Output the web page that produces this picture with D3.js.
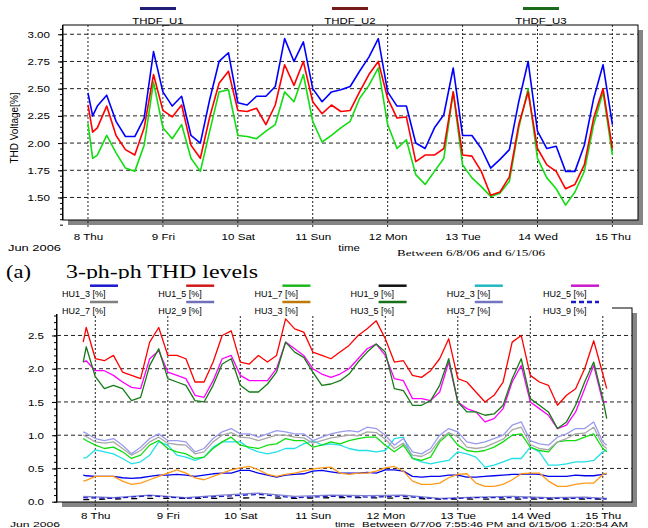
<!DOCTYPE html>
<html>
<head>
<meta charset="utf-8">
<script src="https://cdn.jsdelivr.net/npm/d3@7"></script>
<style>
body { margin: 0; background: #fff; }
svg { display: block; }
text { font-family: Arial, "Liberation Sans", sans-serif; fill: #000; }
</style>
</head>
<body>
<svg id="chart" width="648" height="528"></svg>
<script>
// hours after Jun 8 2006 00:00
const topHours = [0,1.5,3,6,9,12,15,18,21,24,27,30,33,36,39,42,45,48,51,54,57,60,63,66,69,72,75,78,81,84,87,90,93,96,99,102,105,108,111,114,117,120,123,126,129,132,135,138,141,144,147,150,153,156,159,162,165,168]
const thdfU1 = [2.46,2.25,2.34,2.44,2.20,2.06,2.06,2.23,2.84,2.47,2.34,2.43,2.07,2.00,2.40,2.75,2.83,2.37,2.35,2.43,2.43,2.52,2.96,2.75,2.93,2.50,2.38,2.47,2.49,2.52,2.66,2.79,2.96,2.47,2.34,2.34,2.00,1.95,2.14,2.26,2.69,2.07,2.07,1.95,1.77,1.85,1.94,2.38,2.75,2.11,1.95,1.97,1.74,1.74,1.98,2.41,2.72,2.17]
const thdfU2 = [2.35,2.10,2.14,2.34,2.07,1.94,1.89,2.14,2.63,2.30,2.24,2.35,1.98,1.86,2.24,2.55,2.66,2.30,2.29,2.32,2.17,2.35,2.72,2.53,2.75,2.38,2.27,2.35,2.29,2.30,2.47,2.63,2.75,2.41,2.23,2.24,1.83,1.89,1.89,1.95,2.47,1.89,1.88,1.74,1.52,1.55,1.69,2.17,2.47,1.95,1.80,1.74,1.58,1.62,1.80,2.23,2.50,1.95]
const thdfU3 = [2.18,1.86,1.89,2.07,1.91,1.77,1.74,1.98,2.56,2.14,2.04,2.17,1.86,1.74,2.11,2.47,2.49,2.07,2.06,2.04,2.11,2.17,2.47,2.38,2.63,2.20,2.01,2.07,2.14,2.20,2.41,2.53,2.69,2.17,1.95,2.03,1.71,1.62,1.74,1.86,2.47,1.80,1.68,1.60,1.51,1.54,1.65,2.14,2.50,1.86,1.68,1.58,1.43,1.55,1.74,2.17,2.47,1.89]
const topTicks = [1.5,1.75,2.0,2.25,2.5,2.75,3.0]

const botHours = [-4,-3,0,3,6,9,12,15,18,21,24,27,30,33,36,39,42,45,48,51,54,57,60,63,66,69,72,75,78,81,84,87,90,93,96,99,102,105,108,111,114,117,120,123,126,129,132,135,138,141,144,147,150,153,156,159,162,165,168,169.3]
const hu1_3 = [0.40,0.39,0.38,0.38,0.38,0.36,0.35,0.36,0.38,0.40,0.40,0.41,0.40,0.38,0.40,0.42,0.43,0.43,0.47,0.47,0.43,0.40,0.37,0.40,0.41,0.42,0.46,0.47,0.45,0.43,0.43,0.43,0.44,0.43,0.48,0.48,0.46,0.38,0.37,0.38,0.38,0.40,0.40,0.37,0.37,0.38,0.39,0.40,0.41,0.41,0.42,0.41,0.38,0.38,0.38,0.40,0.39,0.39,0.41,0.42]
const hu1_5 = [2.40,2.62,2.15,2.12,2.20,1.95,1.90,1.85,2.40,2.62,2.20,2.20,2.15,1.80,1.80,2.10,2.50,2.57,2.10,2.07,2.20,2.10,2.20,2.75,2.60,2.55,2.25,2.20,2.15,2.25,2.35,2.50,2.60,2.72,2.45,2.10,2.12,1.90,1.87,1.97,2.15,2.45,1.85,1.80,1.65,1.50,1.60,1.80,2.40,2.50,1.90,1.80,1.75,1.45,1.60,1.70,2.00,2.42,1.92,1.70]
const hu1_7 = [0.95,0.92,0.85,0.80,0.82,0.75,0.65,0.70,0.85,0.92,0.80,0.75,0.72,0.65,0.67,0.80,0.90,0.97,0.85,0.82,0.80,0.85,0.87,0.95,0.92,0.92,0.82,0.85,0.90,0.87,0.92,0.95,0.97,0.97,0.85,0.75,0.85,0.65,0.62,0.67,0.90,1.02,0.85,0.77,0.75,0.77,0.82,0.90,1.00,1.02,0.82,0.77,0.75,0.90,0.92,0.92,0.97,1.02,0.80,0.75]
const hu2_3 = [0.66,0.66,0.78,0.75,0.72,0.65,0.57,0.60,0.70,0.90,0.85,0.70,0.67,0.62,0.67,0.82,0.90,0.90,0.90,0.80,0.75,0.72,0.75,0.80,0.80,0.87,0.92,0.85,0.87,0.85,0.80,0.77,0.77,0.75,0.77,0.95,0.97,0.65,0.60,0.57,0.60,0.62,0.75,0.72,0.67,0.52,0.55,0.60,0.65,0.65,0.82,0.75,0.55,0.55,0.57,0.60,0.60,0.62,0.75,0.78]
const hu2_5 = [2.10,2.12,1.97,1.97,1.90,1.80,1.72,1.70,2.15,2.27,1.95,1.90,1.85,1.60,1.57,1.82,2.15,2.20,1.90,1.82,1.82,1.82,2.00,2.40,2.30,2.20,2.00,1.92,1.87,1.92,2.00,2.15,2.30,2.37,2.20,1.85,1.82,1.55,1.55,1.52,1.65,2.10,1.50,1.40,1.35,1.20,1.25,1.40,1.80,2.05,1.50,1.40,1.30,1.10,1.15,1.35,1.70,2.05,1.50,1.50]
const hu2_7 = [1.00,0.98,0.90,0.88,0.90,0.80,0.70,0.77,0.90,0.97,0.88,0.86,0.85,0.72,0.75,0.90,1.00,1.04,0.97,0.96,0.92,0.96,1.00,1.00,0.97,0.96,0.88,0.92,0.96,0.98,1.00,0.99,1.05,1.04,0.94,0.80,0.88,0.70,0.68,0.75,0.93,1.04,0.98,0.82,0.80,0.82,0.88,0.94,1.08,1.12,0.86,0.80,0.78,0.90,0.95,1.02,1.03,1.12,0.85,0.80]
const hu3_3 = [0.31,0.32,0.38,0.38,0.38,0.31,0.26,0.28,0.33,0.38,0.43,0.48,0.43,0.36,0.33,0.38,0.43,0.48,0.51,0.53,0.48,0.41,0.38,0.41,0.43,0.46,0.49,0.51,0.52,0.43,0.41,0.43,0.43,0.46,0.51,0.53,0.46,0.31,0.26,0.26,0.28,0.36,0.41,0.42,0.28,0.23,0.23,0.26,0.33,0.42,0.43,0.43,0.31,0.23,0.23,0.26,0.28,0.28,0.41,0.43]
const hu3_5 = [2.10,2.33,1.88,1.70,1.75,1.70,1.52,1.57,2.05,2.30,1.85,1.80,1.75,1.52,1.50,1.75,2.07,2.15,1.75,1.65,1.65,1.77,1.95,2.40,2.25,2.17,1.95,1.75,1.77,1.82,1.92,2.10,2.25,2.37,2.25,1.70,1.67,1.45,1.45,1.52,1.75,2.15,1.50,1.35,1.35,1.30,1.32,1.45,1.85,2.15,1.55,1.45,1.35,1.10,1.20,1.45,1.80,2.10,1.55,1.25]
const hu3_7 = [1.05,1.03,0.95,0.92,0.95,0.85,0.72,0.82,0.95,1.02,0.92,0.92,0.90,0.75,0.80,0.95,1.05,1.10,1.02,1.02,0.97,1.02,1.07,1.05,1.02,1.02,0.92,0.97,1.02,1.05,1.07,1.05,1.12,1.10,1.00,0.85,0.95,0.75,0.72,0.80,1.00,1.10,1.05,0.90,0.87,0.90,0.95,1.00,1.15,1.20,0.92,0.87,0.85,0.97,1.02,1.10,1.10,1.20,0.90,0.85]

const lowHours = [-4,6,18,30,42,54,66,78,90,102,114,126,138,150,162,169.3]
const hu1_9 = [0.03,0.04,0.05,0.05,0.05,0.06,0.05,0.06,0.06,0.05,0.04,0.04,0.04,0.04,0.04,0.04]
const hu2_9 = [0.08,0.06,0.10,0.06,0.10,0.13,0.08,0.10,0.09,0.10,0.05,0.07,0.08,0.06,0.07,0.05]
const hu3_9 = [0.06,0.05,0.09,0.05,0.08,0.11,0.06,0.08,0.07,0.08,0.04,0.06,0.06,0.05,0.05,0.04]
const botTicks = [0,0.5,1.0,1.5,2.0,2.5]

const t0 = new Date(2006, 5, 8)
const toDate = h => new Date(t0.getTime() + h * 3600e3)
const dayFmt = d3.timeFormat('%-d %a')

const svg = d3.select('#chart')

// widen text the way the scanned figure is stretched
function stretch(sel, k) {
    sel.each(function() {
        const w = this.getComputedTextLength()
        d3.select(this).attr('textLength', w * k).attr('lengthAdjust', 'spacingAndGlyphs')
    })
}

function panel(box, x, y, major, minorStep, fmt, labelGap) {
    const w = box.right - box.left, h = box.bottom - box.top
    svg.append('rect')
        .attr('x', box.left + 5).attr('y', box.top + 5)
        .attr('width', w).attr('height', h)
        .attr('fill', '#858585')
    svg.append('rect')
        .attr('x', box.left).attr('y', box.top)
        .attr('width', w).attr('height', h)
        .attr('fill', '#fff').attr('stroke', '#000').attr('stroke-width', 1)

    // horizontal grid
    svg.append('g').selectAll('line')
        .data(major.filter(v => y(v) < box.bottom - 2))
        .join('line')
        .attr('x1', box.left).attr('x2', box.right)
        .attr('y1', d => y(d)).attr('y2', d => y(d))
        .attr('stroke', '#222').attr('stroke-dasharray', '4,3')

    // day grid
    const days = x.ticks(d3.timeDay.every(1))
    svg.append('g').selectAll('line')
        .data(days)
        .join('line')
        .attr('x1', d => x(d)).attr('x2', d => x(d))
        .attr('y1', box.top).attr('y2', box.bottom + 8)
        .attr('stroke', '#222').attr('stroke-dasharray', '2,2')

    // minor ticks
    const minor = d3.range(y.domain()[0] - y.domain()[0] % minorStep, y.domain()[1], minorStep)
    svg.append('g')
        .attr('transform', `translate(${box.left},0)`)
        .call(d3.axisLeft(y).tickValues(minor).tickSize(3).tickFormat(''))
        .call(g => g.select('.domain').remove())

    const yAxis = svg.append('g')
        .attr('transform', `translate(${box.left},0)`)
        .call(d3.axisLeft(y).tickValues(major).tickSize(5).tickPadding(8).tickFormat(fmt))
    yAxis.selectAll('text').attr('font-size', 9.5).attr('font-family', 'Arial, "Liberation Sans", sans-serif')
    yAxis.select('.domain').attr('d', `M-0.5,${box.top}V${box.bottom}`)
    stretch(yAxis.selectAll('text'), 1.22)

    const xAxis = svg.append('g')
        .attr('transform', `translate(0,${box.bottom + labelGap})`)
        .call(d3.axisBottom(x).ticks(d3.timeDay.every(1)).tickSize(0).tickPadding(0).tickFormat(dayFmt))
    xAxis.select('.domain').remove()
    xAxis.selectAll('text').attr('font-size', 9.5).attr('font-family', 'Arial, "Liberation Sans", sans-serif')
    stretch(xAxis.selectAll('text'), 1.22)
}

function drawLine(x, y, hours, vals, color, width, dash) {
    const line = d3.line()
        .x(d => x(toDate(d[0])))
        .y(d => y(d[1]))
    svg.append('path')
        .datum(d3.zip(hours, vals))
        .attr('d', line)
        .attr('fill', 'none')
        .attr('stroke', color)
        .attr('stroke-width', width)
        .attr('stroke-linejoin', 'round')
        .attr('stroke-dasharray', dash || null)
}

// ---------- top chart ----------
const topBox = {left: 63, top: 25, right: 638, bottom: 220}
const xTop = d3.scaleTime().domain([toDate(-8.0), toDate(176.2)]).range([topBox.left, topBox.right])
const yTop = d3.scaleLinear().domain([1.293, 3.085]).range([topBox.bottom, topBox.top])

panel(topBox, xTop, yTop, topTicks, 0.05, d3.format('.2f'), 13)

drawLine(xTop, yTop, topHours, thdfU3, '#11dd11', 1.6)
drawLine(xTop, yTop, topHours, thdfU2, '#ff0000', 1.6)
drawLine(xTop, yTop, topHours, thdfU1, '#0000ff', 1.6)

const topLegend = [
    {name: 'THDF_U1', color: '#1f1f78', cx: 158},
    {name: 'THDF_U2', color: '#741c1c', cx: 350},
    {name: 'THDF_U3', color: '#1b6b1b', cx: 541}
]
topLegend.forEach(d => {
    svg.append('line')
        .attr('x1', d.cx - 18).attr('x2', d.cx + 18)
        .attr('y1', 8.5).attr('y2', 8.5)
        .attr('stroke', d.color).attr('stroke-width', 3)
    svg.append('text')
        .attr('x', d.cx).attr('y', 24)
        .attr('text-anchor', 'middle')
        .attr('font-size', 9.5)
        .text(d.name)
        .call(stretch, 1.2)
})

svg.append('text')
    .attr('transform', 'translate(18,128) rotate(-90)')
    .attr('text-anchor', 'middle')
    .attr('font-size', 10)
    .text('THD Voltage[%]')

svg.append('text').attr('x', 8).attr('y', 251).attr('font-size', 9.5)
    .attr('textLength', 53).attr('lengthAdjust', 'spacingAndGlyphs').text('Jun 2006')
svg.append('text').attr('x', 349).attr('y', 251).attr('text-anchor', 'middle').attr('font-size', 9.5)
    .text('time').call(stretch, 1.2)
svg.append('text').attr('x', 397).attr('y', 256).attr('font-size', 9)
    .style('font-family', '"Liberation Serif", "Times New Roman", serif')
    .attr('textLength', 148).attr('lengthAdjust', 'spacingAndGlyphs')
    .text('Between 6/8/06 and 6/15/06')

svg.append('text').attr('x', 6).attr('y', 278).attr('font-size', 18)
    .style('font-family', '"Liberation Serif", "Times New Roman", serif')
    .attr('textLength', 25).attr('lengthAdjust', 'spacingAndGlyphs').text('(a)')
svg.append('text').attr('x', 66).attr('y', 278).attr('font-size', 18)
    .style('font-family', '"Liberation Serif", "Times New Roman", serif')
    .attr('textLength', 192).attr('lengthAdjust', 'spacingAndGlyphs').text('3-ph-ph THD levels')

// ---------- bottom chart ----------
const botBox = {left: 57, top: 308, right: 632, bottom: 502}
const xBot = d3.scaleTime().domain([toDate(-12.68), toDate(177.67)]).range([botBox.left, botBox.right])
const yBot = d3.scaleLinear().domain([0, 2.913]).range([501.7, botBox.top])

panel(botBox, xBot, yBot, botTicks, 0.1, d3.format('.1f'), 10)

const botSeries = [
    {name: 'HU1_3 [%]', hours: botHours, vals: hu1_3, color: '#0000ee'},
    {name: 'HU1_5 [%]', hours: botHours, vals: hu1_5, color: '#ff0000'},
    {name: 'HU1_7 [%]', hours: botHours, vals: hu1_7, color: '#11dd11'},
    {name: 'HU1_9 [%]', hours: lowHours, vals: hu1_9, color: '#000000', dash: '6,10'},
    {name: 'HU2_3 [%]', hours: botHours, vals: hu2_3, color: '#22e0e8'},
    {name: 'HU2_5 [%]', hours: botHours, vals: hu2_5, color: '#ff00ff'},
    {name: 'HU2_7 [%]', hours: botHours, vals: hu2_7, color: '#a8a8a8'},
    {name: 'HU2_9 [%]', hours: lowHours, vals: hu2_9, color: '#8080d0'},
    {name: 'HU3_3 [%]', hours: botHours, vals: hu3_3, color: '#ff9a1a'},
    {name: 'HU3_5 [%]', hours: botHours, vals: hu3_5, color: '#157a15'},
    {name: 'HU3_7 [%]', hours: botHours, vals: hu3_7, color: '#9a9af0'},
    {name: 'HU3_9 [%]', hours: lowHours, vals: hu3_9, color: '#1a1acc', dash: '5,3'}
]
const legendColor = {
    'HU1_3 [%]': '#1a1acc', 'HU1_5 [%]': '#d01a1a', 'HU1_7 [%]': '#1fb81f', 'HU1_9 [%]': '#111',
    'HU2_3 [%]': '#20b8c0', 'HU2_5 [%]': '#cc18cc', 'HU2_7 [%]': '#808080', 'HU2_9 [%]': '#7070b8',
    'HU3_3 [%]': '#c07808', 'HU3_5 [%]': '#187018', 'HU3_7 [%]': '#7474c0', 'HU3_9 [%]': '#1a1acc'
}

const drawOrder = [3, 7, 11, 0, 8, 4, 2, 6, 10, 1, 5, 9]
drawOrder.forEach(i => {
    const s = botSeries[i]
    drawLine(xBot, yBot, s.hours, s.vals, s.color, 1.3, s.dash)
})

// legend box hides the top of the frame
svg.append('rect')
    .attr('x', 45).attr('y', 279).attr('width', 567).attr('height', 35)
    .attr('fill', '#fff')

botSeries.forEach((s, i) => {
    const row = Math.floor(i / 6), col = i % 6
    const lx = 62 + 96.2 * col
    const my = row ? 302 : 285.7
    svg.append('line')
        .attr('x1', lx + 28).attr('x2', lx + 56)
        .attr('y1', my).attr('y2', my)
        .attr('stroke', legendColor[s.name]).attr('stroke-width', 2.5)
        .attr('stroke-dasharray', s.dash === '5,3' ? '5,3' : null)
    svg.append('text')
        .attr('x', lx).attr('y', (row ? 311 : 294) + 3.3)
        .attr('font-size', 9)
        .text(s.name)
})

svg.append('text').attr('x', 10).attr('y', 527.4).attr('font-size', 7.5)
    .attr('textLength', 50).attr('lengthAdjust', 'spacingAndGlyphs').text('Jun 2006')
svg.append('text').attr('x', 335).attr('y', 527.4).attr('font-size', 7.5)
    .attr('textLength', 20).attr('lengthAdjust', 'spacingAndGlyphs').text('time')
svg.append('text').attr('x', 362).attr('y', 527.4).attr('font-size', 7.5)
    .attr('textLength', 266).attr('lengthAdjust', 'spacingAndGlyphs')
    .text('Between 6/7/06 7:55:46 PM and 6/15/06 1:20:54 AM')
</script>
</body>
</html>
